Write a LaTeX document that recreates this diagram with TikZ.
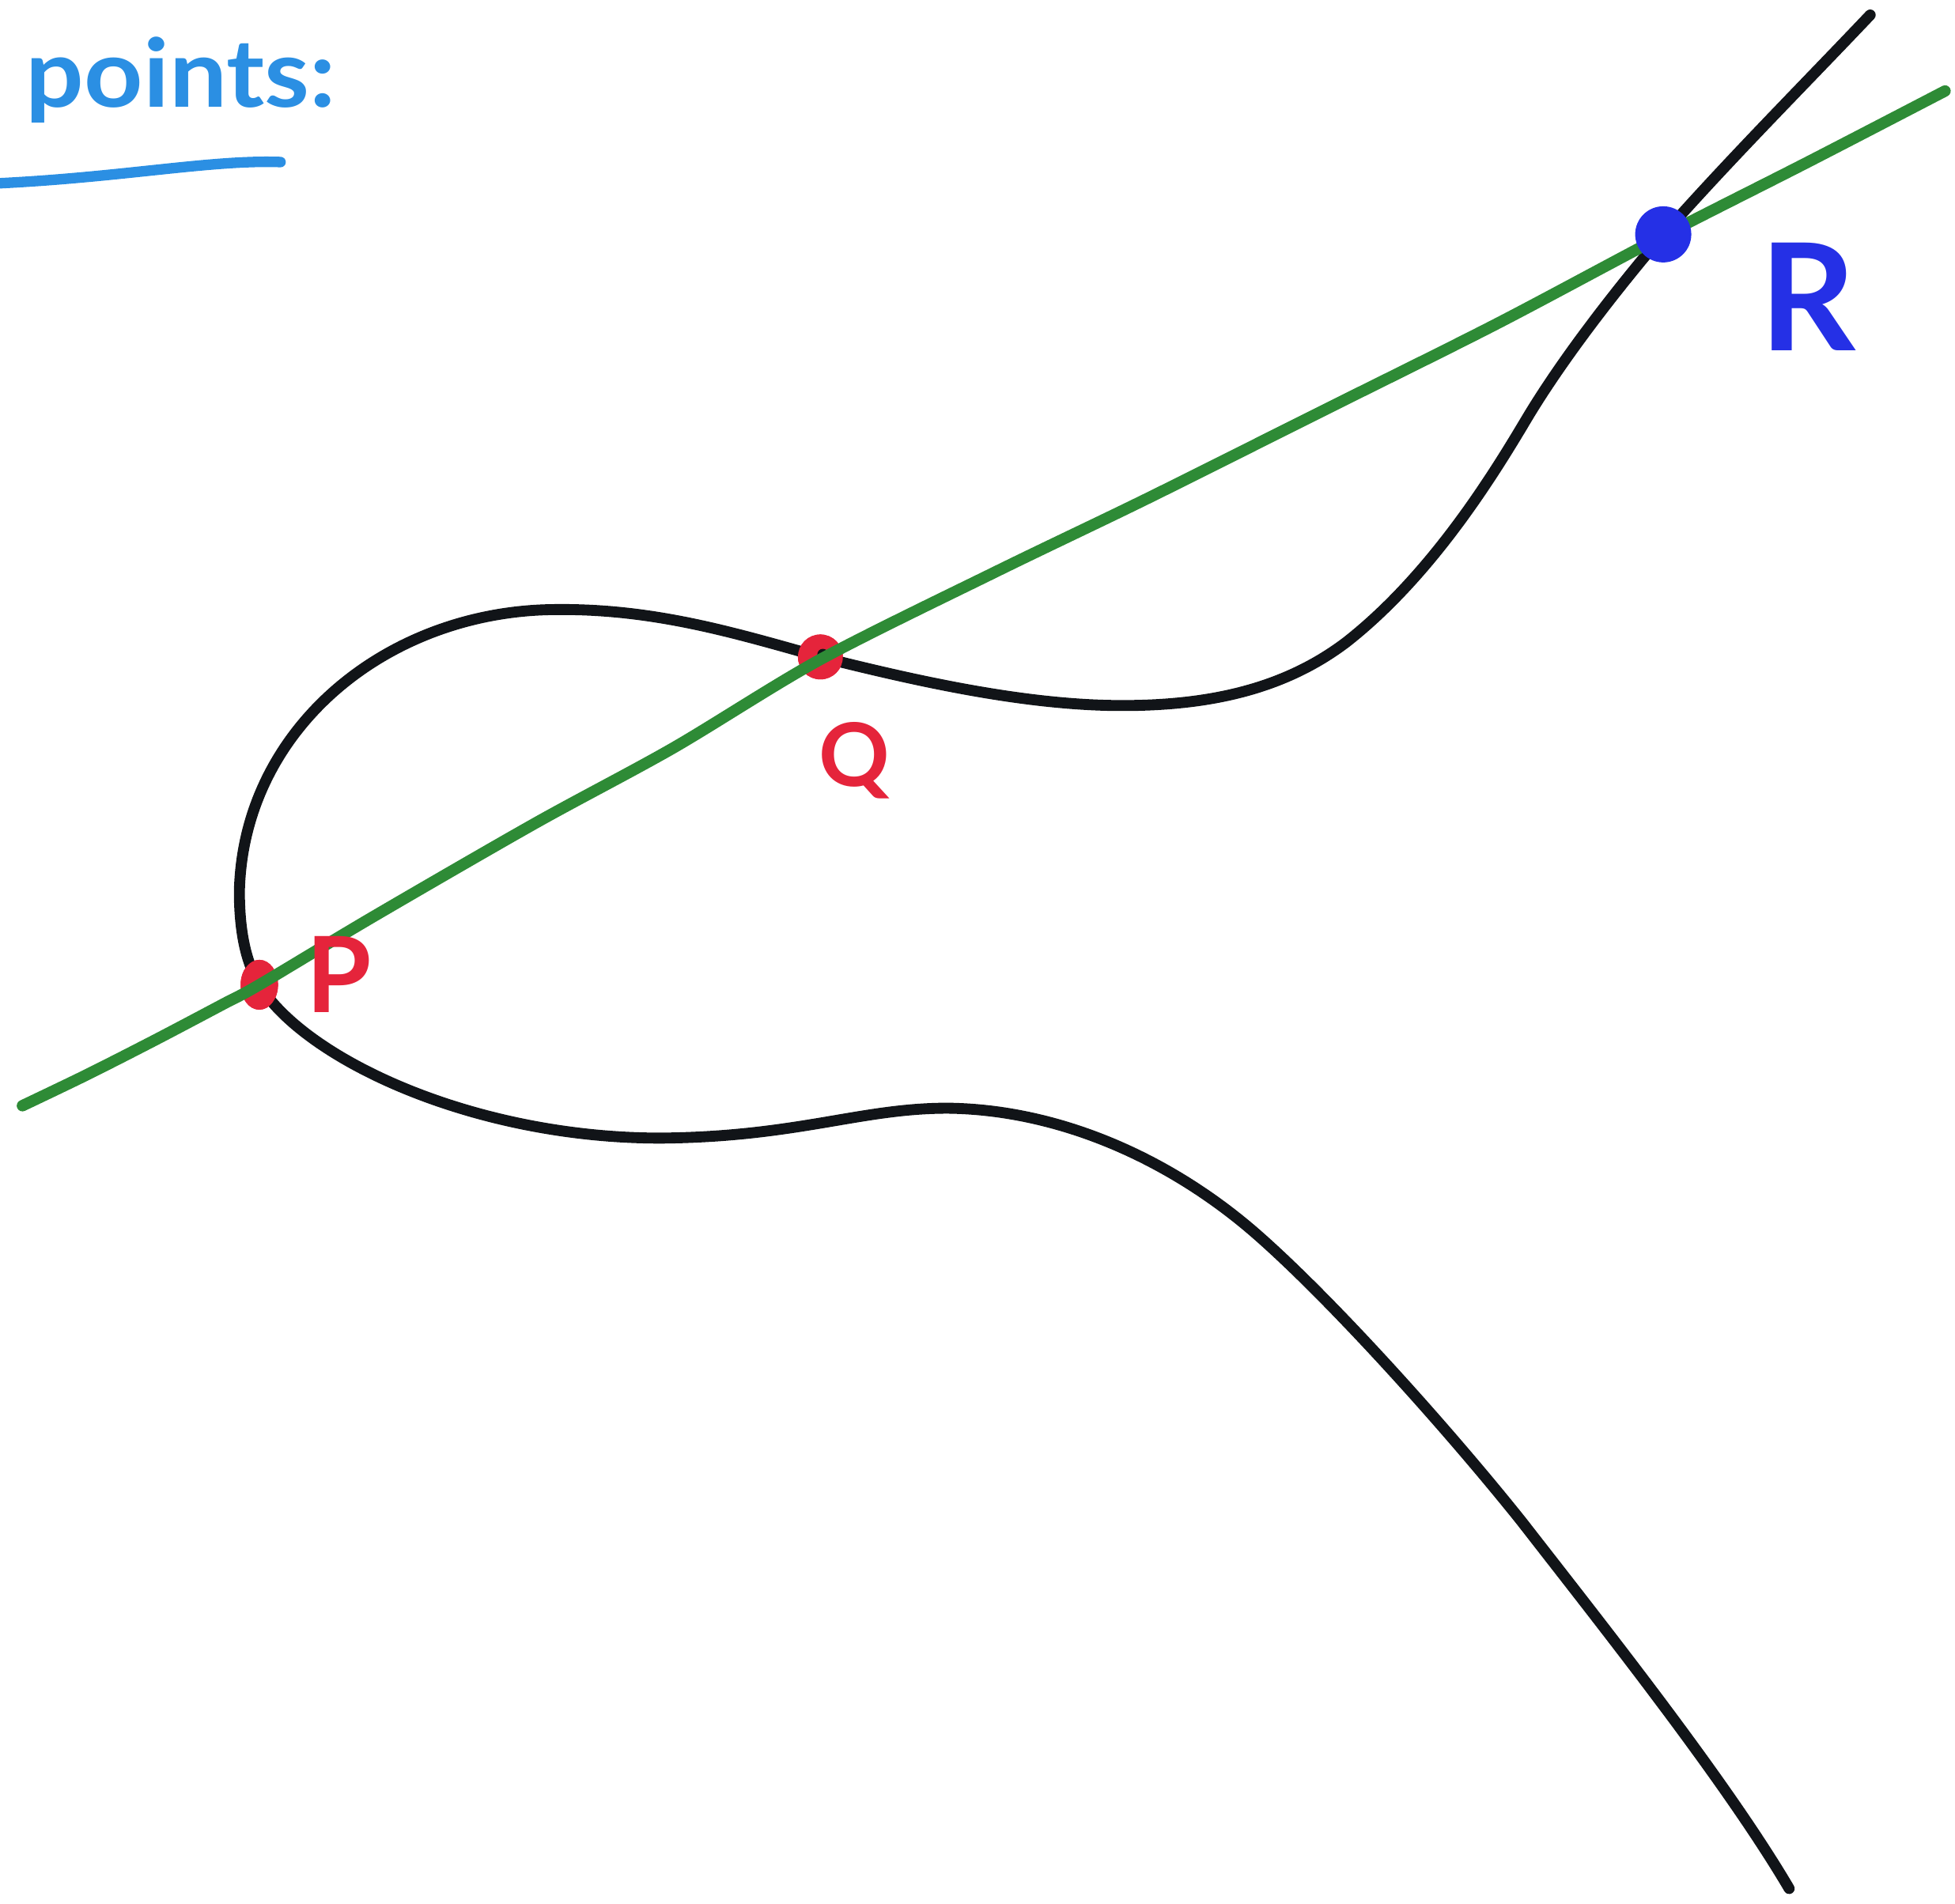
\documentclass[tikz,border=0pt]{standalone}
\usepackage{fontspec}
\setmainfont{Lato}
\usetikzlibrary{shapes.geometric}
\definecolor{ptblue}{HTML}{2B8FE3}
\definecolor{rblue}{HTML}{2530E6}
\definecolor{pred}{HTML}{E5243B}
\definecolor{lgreen}{HTML}{2E8B36}
\definecolor{cblack}{HTML}{111418}
\begin{document}
\begin{tikzpicture}[x=0.01cm,y=-0.01cm,
  curvestyle/.style={cblack,line width=2.5pt,line cap=round,line join=round},
  linestyle/.style={lgreen,line width=2.6pt,line cap=round,line join=round},
  reddot/.style={fill=pred,draw=none,ellipse,inner sep=0pt},
  label/.style={inner sep=0pt,font=\bfseries}]
\useasboundingbox (0,0) rectangle (1568,1527);
% named points on the curve
\coordinate (C0) at (1500,12);
\coordinate (C1) at (1225,335);
\coordinate (C2) at (1080,515);
\coordinate (C3) at (900,566);
\coordinate (C4) at (445,489);
\coordinate (C5) at (192,715);
\coordinate (C6) at (530,913);
\coordinate (C7) at (760,889);
\coordinate (C8) at (1010,992);
\coordinate (C9) at (1220,1220);
\coordinate (C10) at (1435,1515);
% red points
\node[reddot,minimum width=0.30cm,minimum height=0.40cm] (P) at (208,790) {};
\node[reddot,minimum width=0.36cm,minimum height=0.36cm] (Q) at (658,527) {};
% curve
\draw[curvestyle] (C0) .. controls (1445,70) and (1390,125) .. (1335,187)
  .. controls (1300,228) and (1255,285) .. (C1)
  .. controls (1200,377) and (1150,460) .. (C2)
  .. controls (1030,553) and (970,566) .. (C3)
  .. controls (820,566) and (730,545) .. (Q.center)
  .. controls (590,508) and (525,488) .. (C4)
  .. controls (310,490) and (195,585) .. (C5)
  .. controls (192,750) and (198,773) .. (P.center)
  .. controls (245,850) and (380,913) .. (C6)
  .. controls (640,912) and (690,889) .. (C7)
  .. controls (850,890) and (940,930) .. (C8)
  .. controls (1070,1045) and (1160,1145) .. (C9)
  .. controls (1290,1310) and (1385,1430) .. (C10);
\fill[pred] (Q) circle[radius=0.18cm];
\fill[pred] (P) ellipse[x radius=0.15cm,y radius=0.20cm];
\fill[cblack] (Q) ++(2,-2) circle[radius=0.045cm];
% green line
\draw[linestyle] plot[smooth,tension=0.5] coordinates {
 (18,887) (70,862) (125,834) (180,805) (208,790) (300,735) (430,660)
 (540,600) (658,529) (800,458) (920,400) (1060,330) (1200,260)
 (1334,189) (1450,130) (1560,73)};
% blue point
\node[fill=rblue,circle,minimum size=0.45cm,inner sep=0pt] (R) at (1334,188) {};
% labels
\node[label,text=pred,font=\bfseries\fontsize{24}{24}\selectfont] (Plab) at (272,782) {P};
\node[label,text=pred,font=\bfseries\fontsize{20}{20}\selectfont] (Qlab) at (685,610) {Q};
\node[label,text=rblue,font=\bfseries\fontsize{34}{34}\selectfont] (Rlab) at (1450,238) {R};
% title
\node[label,text=ptblue,anchor=base west,xscale=1.3,yscale=1.2,font=\bfseries\fontsize{18}{18}\selectfont] (title) at (20,86) {points:};
\draw[ptblue,line width=2.4pt,line cap=round] (0,147) .. controls (100,142) and (170,128) .. (225,130);
\end{tikzpicture}
\end{document}
